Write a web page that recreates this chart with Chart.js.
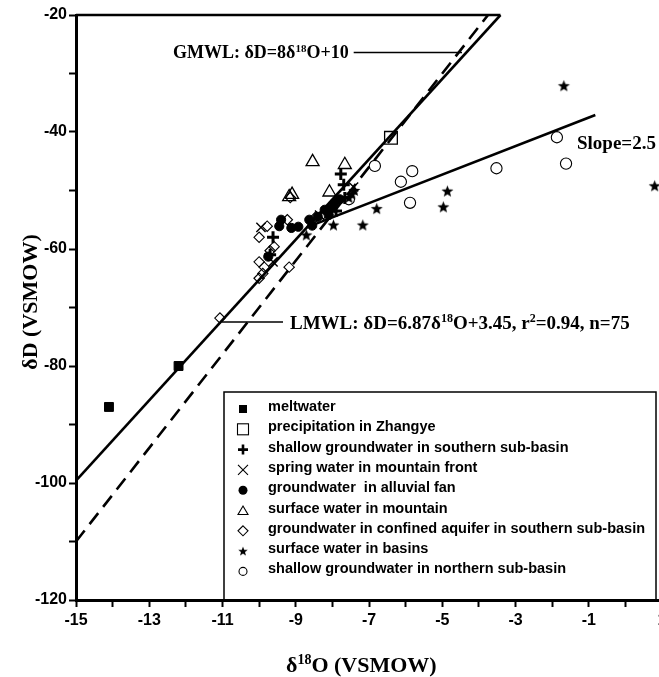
<!DOCTYPE html>
<html>
<head>
<meta charset="utf-8">
<script src="https://cdn.jsdelivr.net/npm/chart.js@4.4.0/dist/chart.umd.min.js"></script>
<style>
    html, body { margin: 0; padding: 0; background: #fff; overflow: hidden; }
    canvas { display: block; }
</style>
</head>
<body>
<canvas id="isoChart" width="680" height="677"></canvas>
<script>
// axis ranges
const xMin = -15, xMax = 1;
const yMin = -120, yMax = -20;

// sample groups, [d18O, dD]
const meltwater = [[-14.1, -87], [-12.2, -80]];
const precipitation = [[-6.4, -41]];
const shallowSouth = [[-7.77, -47.2], [-7.69, -49], [-7.66, -51.3], [-9.62, -58], [-9.7, -61], [-7.9, -53.5]];
const springFront = [[-9.95, -56.3], [-9.62, -62.2], [-7.42, -49.4], [-8.35, -54.2]];
const alluvialFan = [[-9.4, -55], [-9.45, -56.1], [-9.12, -56.4], [-8.93, -56.2], [-8.63, -55], [-8.55, -56],
    [-8.21, -53.3], [-8.02, -53], [-7.94, -52.1], [-8.4, -54.5], [-8.1, -54.2], [-7.8, -51.5], [-9.75, -61.3]];
const surfaceMountain = [[-8.54, -45.1], [-7.66, -45.6], [-8.08, -50.3], [-9.18, -51.1], [-9.1, -50.7]];
const confinedSouth = [[-9.78, -56.1], [-10, -58], [-9.23, -55], [-9.15, -51.2], [-9.59, -59.6], [-10, -62.2],
    [-9.86, -63.1], [-9.18, -63.1], [-10, -65], [-11.07, -71.8], [-9.9, -64.2], [-9.7, -60.3], [-8.45, -54.5], [-8.25, -54]];
const surfaceBasin = [[-1.68, -32.1], [0.8, -49.2], [-4.86, -50.1], [-4.97, -52.8], [-6.79, -53.1], [-7.17, -55.9],
    [-7.97, -55.9], [-8.71, -57.6], [-7.47, -50.6], [-7.55, -51.2], [-7.4, -50]];
const shallowNorth = [[-6.84, -45.8], [-1.87, -40.9], [-1.62, -45.4], [-3.52, -46.2], [-5.82, -46.7], [-6.13, -48.5],
    [-5.88, -52.1], [-7.55, -51.5]];

// line end points
const lmwlLine = [[-15, -99.6], [-3.41, -20]];
const gmwlLine = [[-15, -110], [-3.75, -20]];
const slopeLine = [[-8.7, -56.3], [-0.82, -37.1]];

const legendLabels = ['meltwater', 'precipitation in Zhangye', 'shallow groundwater in southern sub-basin',
    'spring water in mountain front', 'groundwater  in alluvial fan', 'surface water in mountain',
    'groundwater in confined aquifer in southern sub-basin', 'surface water in basins',
    'shallow groundwater in northern sub-basin'];

const toXY = arr => arr.map(p => ({x: p[0], y: p[1]}));

// filled five point star
function makeStar(r) {
    const c = document.createElement('canvas');
    c.width = c.height = Math.ceil(r * 2 + 2);
    const g = c.getContext('2d');
    const cx = c.width / 2, cy = c.height / 2 + r * 0.08;
    g.beginPath();
    for (let i = 0; i < 10; i++) {
        const rr = i % 2 === 0 ? r : r * 0.42;
        const a = -Math.PI / 2 + i * Math.PI / 5;
        g.lineTo(cx + rr * Math.cos(a), cy + rr * Math.sin(a));
    }
    g.closePath();
    g.fillStyle = '#000';
    g.fill();
    return c;
}
const starImg = makeStar(6.3);
const starSmall = makeStar(5);

function pts(label, data, style, radius, fill, bw) {
    return {
        type: 'scatter', label: label, data: toXY(data),
        pointStyle: style, pointRadius: radius, pointHoverRadius: radius,
        backgroundColor: fill, borderColor: '#000', pointBorderWidth: bw
    };
}

function lineSet(label, data, dash) {
    return {
        type: 'line', label: label, data: toXY(data),
        borderColor: '#000', borderWidth: 2.6, borderDash: dash,
        pointRadius: 0, fill: false, tension: 0
    };
}

function richText(ctx, parts, x, y, size) {
    let cx = x;
    ctx.textAlign = 'left';
    ctx.textBaseline = 'alphabetic';
    parts.forEach(p => {
        const s = p.sup ? Math.round(size * 0.62) : size;
        ctx.font = 'bold ' + s + 'px "Liberation Serif", "Times New Roman", serif';
        ctx.fillText(p.t, cx, p.sup ? y - size * 0.36 : y);
        cx += ctx.measureText(p.t).width;
    });
    return cx;
}

function legendMark(ctx, i, x, y) {
    ctx.save();
    ctx.strokeStyle = '#000';
    ctx.fillStyle = '#000';
    ctx.lineWidth = 1.1;
    ctx.beginPath();
    switch (i) {
        case 0: ctx.fillRect(x - 4, y - 4, 8, 8); break;
        case 1: ctx.strokeRect(x - 5.5, y - 5.5, 11, 11); break;
        case 2: ctx.lineWidth = 2.6; ctx.moveTo(x - 5, y); ctx.lineTo(x + 5, y); ctx.moveTo(x, y - 5); ctx.lineTo(x, y + 5); ctx.stroke(); break;
        case 3: ctx.moveTo(x - 5, y - 5); ctx.lineTo(x + 5, y + 5); ctx.moveTo(x + 5, y - 5); ctx.lineTo(x - 5, y + 5); ctx.stroke(); break;
        case 4: ctx.arc(x, y, 4.5, 0, Math.PI * 2); ctx.fill(); break;
        case 5: ctx.moveTo(x, y - 4.5); ctx.lineTo(x + 5, y + 4); ctx.lineTo(x - 5, y + 4); ctx.closePath(); ctx.stroke(); break;
        case 6: ctx.moveTo(x, y - 5); ctx.lineTo(x + 5, y); ctx.lineTo(x, y + 5); ctx.lineTo(x - 5, y); ctx.closePath(); ctx.stroke(); break;
        case 7: ctx.drawImage(starSmall, x - starSmall.width / 2, y - starSmall.height / 2); break;
        case 8: ctx.arc(x, y, 4, 0, Math.PI * 2); ctx.stroke(); break;
    }
    ctx.restore();
}

const extras = {
    id: 'extras',
    afterDraw(chart) {
        const ctx = chart.ctx;
        const xs = chart.scales.x, ys = chart.scales.y;
        ctx.save();
        ctx.fillStyle = '#000';
        ctx.strokeStyle = '#000';

        // partial top frame
        ctx.lineWidth = 2.6;
        ctx.beginPath();
        ctx.moveTo(xs.getPixelForValue(xMin), ys.getPixelForValue(yMax));
        ctx.lineTo(xs.getPixelForValue(lmwlLine[1][0]), ys.getPixelForValue(yMax));
        ctx.stroke();

        // annotations
        const g = richText(ctx, [{t: 'GMWL: δD=8δ'}, {t: '18', sup: true}, {t: 'O+10'}], 173, 58, 18);
        ctx.lineWidth = 1.5;
        ctx.beginPath();
        ctx.moveTo(g + 5, 52.5);
        ctx.lineTo(462, 52.5);
        ctx.stroke();

        ctx.beginPath();
        ctx.moveTo(222, 322);
        ctx.lineTo(283, 322);
        ctx.stroke();
        richText(ctx, [{t: 'LMWL: δD=6.87δ'}, {t: '18', sup: true}, {t: 'O+3.45, r'}, {t: '2', sup: true}, {t: '=0.94, n=75'}], 290, 329, 19);

        richText(ctx, [{t: 'Slope=2.5'}], 577, 149, 19);

        // axis titles
        richText(ctx, [{t: 'δ'}, {t: '18', sup: true}, {t: 'O (VSMOW)'}], 286, 672, 22);
        ctx.save();
        ctx.translate(37, 302);
        ctx.rotate(-Math.PI / 2);
        ctx.font = 'bold 22px "Liberation Serif", "Times New Roman", serif';
        ctx.textAlign = 'center';
        ctx.fillText('δD (VSMOW)', 0, 0);
        ctx.restore();

        // legend box
        const lx = 224, ly = 392, lr = 656, lb = ys.getPixelForValue(yMin);
        ctx.lineWidth = 1.5;
        ctx.strokeRect(lx, ly, lr - lx, lb - ly);
        ctx.font = 'bold 14.5px "Liberation Sans", Arial, sans-serif';
        ctx.textBaseline = 'middle';
        ctx.textAlign = 'left';
        legendLabels.forEach((lab, i) => {
            const yy = 407 + i * 20.3;
            legendMark(ctx, i, 243, yy + 2);
            ctx.fillText(lab, 268, yy);
        });
        ctx.restore();
    }
};

const tickFont = {family: '"Liberation Sans", Arial, sans-serif', size: 16, weight: 'bold'};

new Chart(document.getElementById('isoChart'), {
    data: {
        datasets: [
            pts('meltwater', meltwater, 'rect', 6.3, '#000', 1),
            pts('precipitation', precipitation, 'rect', 9, 'rgba(0,0,0,0)', 1.3),
            pts('shallow south', shallowSouth, 'cross', 6, '#000', 3),
            pts('spring', springFront, 'crossRot', 6.5, '#000', 1.4),
            pts('alluvial fan', alluvialFan, 'circle', 4.6, '#000', 1),
            pts('surface mountain', surfaceMountain, 'triangle', 7.5, 'rgba(0,0,0,0)', 1.3),
            pts('confined', confinedSouth, 'rectRot', 5.2, 'rgba(0,0,0,0)', 1.1),
            pts('surface basin', surfaceBasin, starImg, 6, '#000', 1),
            pts('shallow north', shallowNorth, 'circle', 5.6, 'rgba(255,255,255,0)', 1.1),
            lineSet('LMWL', lmwlLine, []),
            lineSet('GMWL', gmwlLine, [14, 8]),
            lineSet('slope', slopeLine, [])
        ]
    },
    options: {
        responsive: false,
        animation: false,
        events: [],
        layout: {padding: {top: 15, right: 18, left: 0, bottom: 0}},
        plugins: {legend: {display: false}, tooltip: {enabled: false}},
        scales: {
            x: {
                type: 'linear', min: xMin, max: xMax,
                afterFit: s => { s.height = 77; },
                border: {display: true, color: '#000', width: 3},
                grid: {drawOnChartArea: false, drawTicks: true, tickLength: 7, tickColor: '#000', tickWidth: 2},
                ticks: {
                    stepSize: 1, autoSkip: false, maxRotation: 0, color: '#000', font: tickFont, padding: 4,
                    callback: v => (Math.abs(v) % 2 === 1 ? String(v) : '')
                }
            },
            y: {
                type: 'linear', min: yMin, max: yMax,
                afterFit: s => { s.width = 76; },
                border: {display: true, color: '#000', width: 3},
                grid: {drawOnChartArea: false, drawTicks: true, tickLength: 7, tickColor: '#000', tickWidth: 2},
                ticks: {
                    stepSize: 10, autoSkip: false, color: '#000', font: tickFont, padding: 2,
                    callback: v => (v % 20 === 0 ? String(v) : '')
                }
            }
        }
    },
    plugins: [extras]
});
</script>
</body>
</html>
